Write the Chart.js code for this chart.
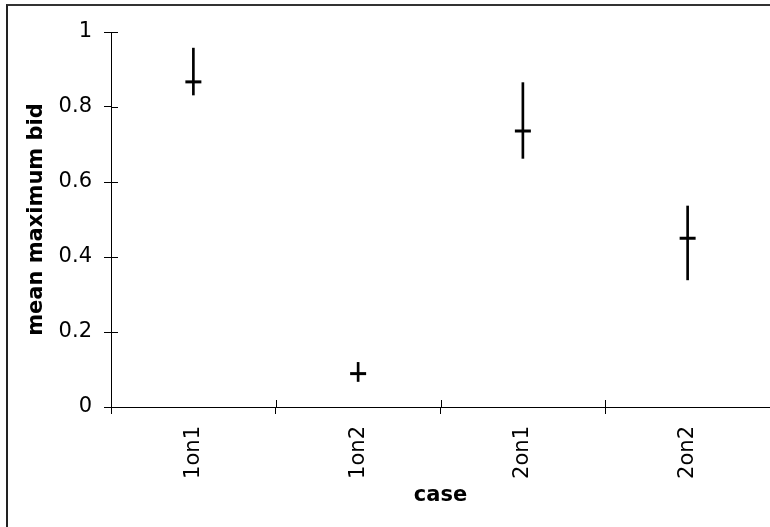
<!DOCTYPE html>
<html>
<head>
<meta charset="utf-8">
<script src="https://cdn.jsdelivr.net/npm/chart.js@4"></script>
<style>
    html, body { margin: 0; padding: 0; background: #fff; overflow: hidden; }
    #wrap { position: relative; width: 770px; height: 527px; }
    #frame {
        position: absolute; left: 6px; top: 4px; width: 900px; height: 700px;
        border-left: 2px solid #222; border-top: 2px solid #333; pointer-events: none;
    }
</style>
</head>
<body>
<div id="wrap">
    <canvas id="grafico" width="770" height="527"></canvas>
    <div id="frame"></div>
</div>
<script>
// ── Datos ───────────────────────────────────────────────────────────────────
const casos = ["1on1", "1on2", "2on1", "2on2"];
const medias = [0.867, 0.089, 0.736, 0.450];
const limiteInferior = [0.832, 0.068, 0.663, 0.339];
const limiteSuperior = [0.957, 0.119, 0.865, 0.536];

const fuente = "'DejaVu Sans', Verdana, sans-serif";

// marcas de tick que cruzan el eje hacia adentro
const ticksInternos = {
    id: "ticksInternos",
    afterDraw(chart) {
        const { ctx, scales: { x, y }, chartArea } = chart;
        ctx.save();
        ctx.strokeStyle = "#000";
        ctx.lineWidth = 1;
        y.ticks.forEach((t, i) => {
            const py = Math.round(y.getPixelForTick(i)) + 0.5;
            ctx.beginPath();
            ctx.moveTo(chartArea.left, py);
            ctx.lineTo(chartArea.left + 7, py);
            ctx.stroke();
        });
        for (let i = 1; i < casos.length; i++) {
            const px = Math.round(x.getPixelForValue(i - 0.5)) + 0.5;
            ctx.beginPath();
            ctx.moveTo(px, chartArea.bottom);
            ctx.lineTo(px, chartArea.bottom - 7);
            ctx.stroke();
        }
        ctx.restore();
    },
};

new Chart(document.getElementById("grafico"), {
    type: "bar",
    data: {
        labels: casos,
        datasets: [
            {
                label: "rango",
                data: casos.map((c, i) => [limiteInferior[i], limiteSuperior[i]]),
                backgroundColor: "#000",
                borderWidth: 0,
                barThickness: 2,
            },
            {
                label: "media",
                type: "line",
                data: medias,
                showLine: false,
                pointStyle: "line",
                pointRadius: 8,
                pointHoverRadius: 8,
                pointBorderWidth: 3,
                pointBorderColor: "#000",
                borderColor: "#000",
            },
        ],
    },
    plugins: [ticksInternos],
    options: {
        responsive: false,
        animation: false,
        events: [],
        layout: { autoPadding: false, padding: { top: 32, right: 0, bottom: 0, left: 0 } },
        plugins: {
            legend: { display: false },
            tooltip: { enabled: false },
        },
        scales: {
            x: {
                afterFit: (s) => { s.height = 120; },
                grid: { drawOnChartArea: false, color: "#000", tickLength: 7, offset: true },
                border: { color: "#000", width: 1 },
                ticks: {
                    font: { family: fuente, size: 21 },
                    color: "#000",
                    maxRotation: 90,
                    minRotation: 90,
                    padding: 12,
                },
                title: {
                    display: true,
                    text: "case",
                    color: "#000",
                    font: { family: fuente, size: 21, weight: "bold" },
                    padding: { top: 0, bottom: 19 },
                },
            },
            y: {
                min: 0,
                max: 1,
                afterFit: (s) => { s.width = 111; },
                grid: { drawOnChartArea: false, color: "#000", tickLength: 7 },
                border: { color: "#000", width: 1 },
                ticks: {
                    stepSize: 0.2,
                    font: { family: fuente, size: 21 },
                    color: "#000",
                    padding: 12,
                    callback: (v) => String(+v.toFixed(1)),
                },
                title: {
                    display: true,
                    text: "mean maximum bid",
                    color: "#000",
                    font: { family: fuente, size: 21, weight: "bold" },
                    padding: { top: 24, bottom: 0 },
                },
            },
        },
    },
});
</script>
</body>
</html>
